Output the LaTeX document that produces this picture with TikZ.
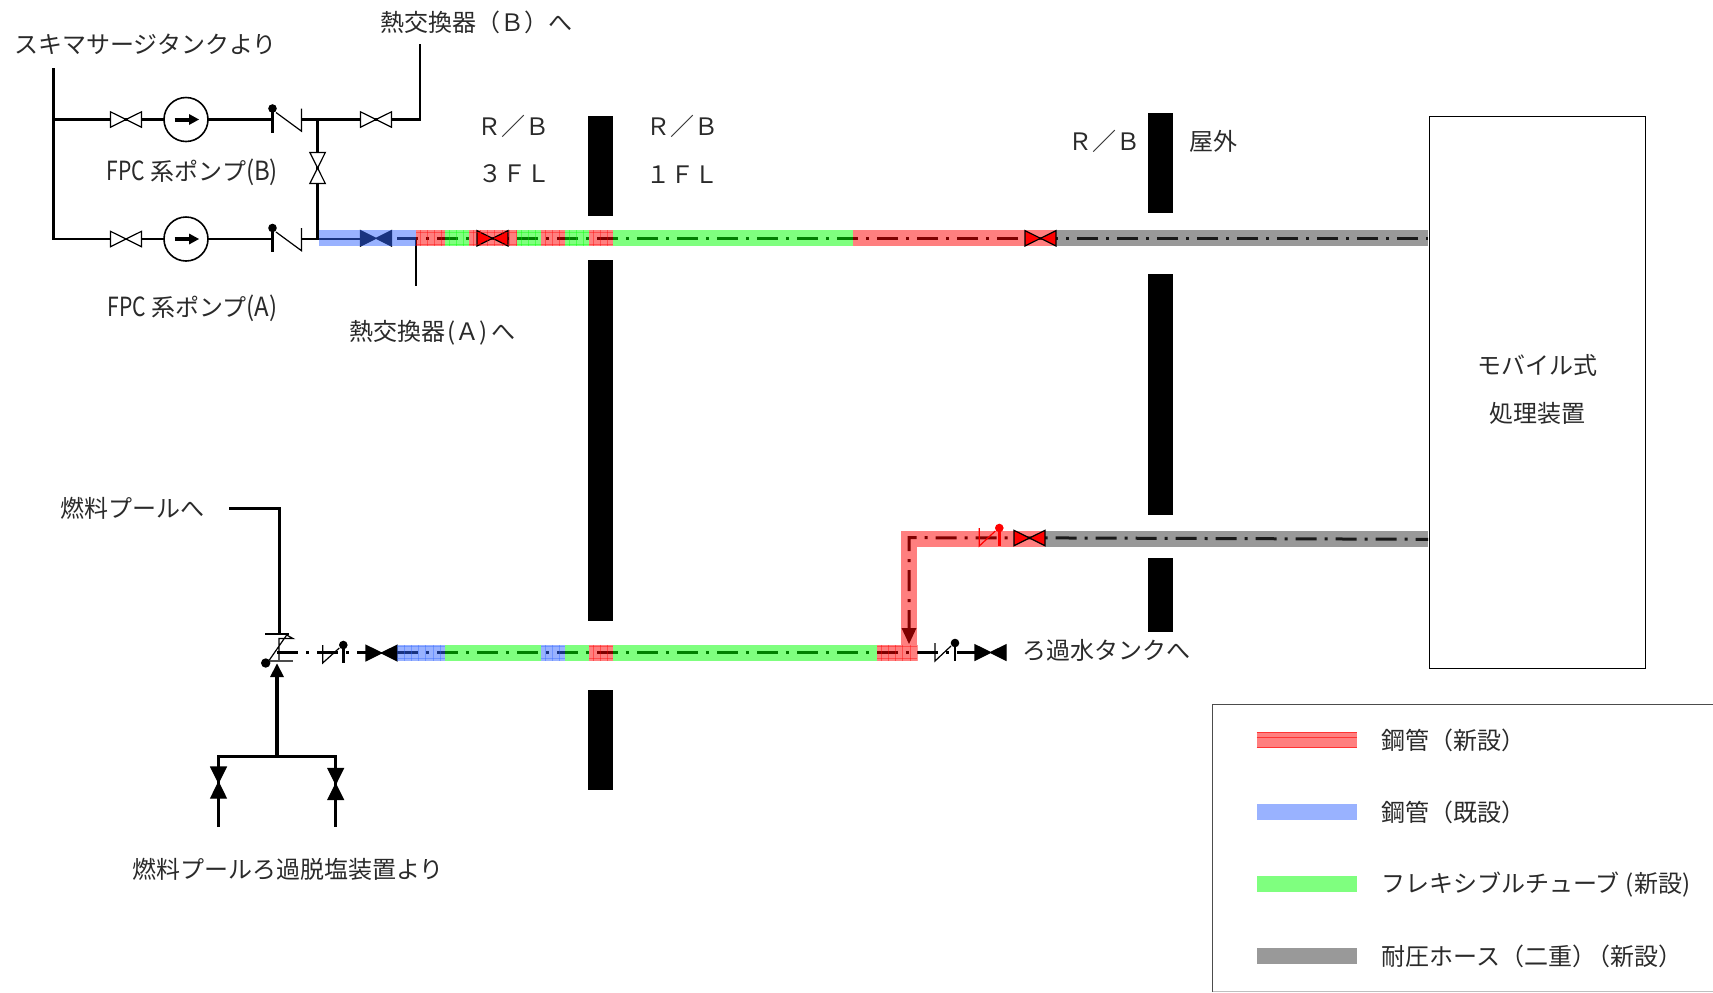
\documentclass[tikz,border=0pt]{standalone}
\usepackage{fontspec}
\setmainfont{Noto Sans CJK JP}
\usetikzlibrary{calc}
\definecolor{bandred}{HTML}{FF0000}
\definecolor{bandblue}{HTML}{3366FF}
\definecolor{bandgreen}{HTML}{00FF00}
\definecolor{bandgray}{HTML}{333333}
\definecolor{inkc}{HTML}{2A2A2A}
\tikzset{
  pipe/.style={line width=1.35pt,black,line cap=butt},
  thinpipe/.style={line width=.6pt,black},
  chain/.style={line width=1.5pt,black,dash pattern=on 10.5pt off 4pt on 1.5pt off 4pt},
  band/.style={fill=#1,opacity=.5,draw=none},
  wall/.style={fill=black,draw=none},
  lbl/.style={inner sep=0pt,font=\fontsize{12pt}{12pt}\selectfont,text=inkc,yshift=-.35pt},
  pump/.style={circle,draw=black,line width=.8pt,fill=white,minimum size=22pt,inner sep=0pt},
}
% horizontal / vertical bow-tie valves: centre x, centre y, fill, outline
\newcommand{\hvalve}[4]{\filldraw[fill=#3,draw=#4,line width=.6pt]
  (#1-15.5,#2-7.7) -- (#1+15.5,#2+7.7) -- (#1+15.5,#2-7.7) -- (#1-15.5,#2+7.7) -- cycle;}
\newcommand{\vvalve}[4]{\filldraw[fill=#3,draw=#4,line width=.6pt]
  (#1-7.7,#2-15.5) -- (#1+7.7,#2+15.5) -- (#1-7.7,#2+15.5) -- (#1+7.7,#2-15.5) -- cycle;}
% faint grid of a tinted section: first x, next x, last x, centre y, colour
\newcommand{\gridlines}[5]{\foreach \gx in {#1,#2,...,#3}{\draw[#5,line width=.3pt,opacity=.4] (\gx,#4-8) -- (\gx,#4+8);}}
\newcommand{\gridrows}[4]{\draw[#4,line width=.3pt,opacity=.4] (#1,#3-6) -- (#2,#3-6) (#1,#3+6) -- (#2,#3+6);}
% check valve with lever: x of thin bar, x of thick bar, centre y, colour
\newcommand{\checkv}[4]{
  \draw[#4,line width=.6pt] (#1,#3-9) -- (#1,#3+9) -- (#2-4,#3-6);
  \draw[#4,line width=1.35pt] (#2,#3-9) -- (#2,#3+9);
  \fill[#4] (#2,#3-9) circle[radius=2.15pt];}
% pump-discharge check valve: lever bar on the left
\newcommand{\checkp}[1]{
  \draw[line width=1.2pt,black] (272.5,#1-9) -- (272.5,#1+13);
  \fill[black] (272.5,#1-11) circle[radius=2.15pt];
  \draw[line width=.6pt,black] (276,#1-7) -- (301.5,#1+11.7) -- (301.5,#1-11);}
\begin{document}
\begin{tikzpicture}[x=.5pt,y=-.5pt]
\useasboundingbox (0,0) rectangle (1713,992);
% ---- coordinates
\coordinate (skimtop) at (53.6,68);
\coordinate (skimB) at (53.6,119.5);
\coordinate (skimA) at (53.6,239);
\coordinate (hxBtop) at (420,44);
\coordinate (hxBcor) at (420,119.5);
\coordinate (teeB) at (317.6,119.5);
\coordinate (teeA) at (317.6,239);
\coordinate (hxAtop) at (416,238);
\coordinate (hxAend) at (416,286);
% ---- plain pipework, top left
\draw[pipe,line join=miter] (skimtop) -- (skimA) -- (272.5,239);
\draw[pipe] (skimB) -- (272.5,119.5);
\draw[pipe] (301.5,119.5) -- (hxBcor) -- (hxBtop);
\draw[pipe] (301.5,239) -- (teeA) -- (teeB);
\draw[pipe] (teeA) -- (361,239);
\draw[pipe] (hxAtop) -- (hxAend);
\node[pump] (pumpB) at (186,119.5) {};
\node[pump] (pumpA) at (186,239) {};
\foreach \py in {119.5,239}{
  \draw[line width=2pt,black] (174.5,\py) -- (190,\py);
  \fill[black] (189,\py-5.5) -- (199,\py) -- (189,\py+5.5) -- cycle;
  \hvalve{126}{\py}{white}{black}
  \checkp{\py}
}
\hvalve{376}{119.5}{white}{black}
\vvalve{317.6}{168}{white}{black}
% ---- chain lines
\draw[chain] (397,238.3) -- (1428,238.3);
\draw[chain] (277,652.5) -- (975,652.5);
\draw[chain,dash phase=4.35pt] (1428,539.3) -- (1045,537.9) -- (909,537.7) -- (909,630);
\fill[black] (901.5,628) -- (916.5,628) -- (909,644) -- cycle;
% ---- valves lying under the tints
\hvalve{376}{238.3}{black}{black}
\hvalve{381.5}{653}{black}{black}
\hvalve{990.5}{652.5}{black}{black}
% ---- lower check valves
\checkv{322.7}{343.3}{654}{black}
\checkv{935}{955}{652}{black}
% ---- tints, top
\fill[band=bandblue] (319,230.3) rectangle (416,246.3);
\fill[band=bandred] (416,230.3) rectangle (445,246.3);
\fill[band=bandgreen] (445,230.3) rectangle (469,246.3);
\fill[band=bandred] (469,230.3) rectangle (517,246.3);
\fill[band=bandgreen] (517,230.3) rectangle (541,246.3);
\fill[band=bandred] (541,230.3) rectangle (565,246.3);
\fill[band=bandgreen] (565,230.3) rectangle (589,246.3);
\fill[band=bandred] (589,230.3) rectangle (613,246.3);
\fill[band=bandgreen] (613,230.3) rectangle (853,246.3);
\fill[band=bandred] (853,230.3) rectangle (1056,246.3);
\fill[band=bandgray] (1056,230.3) rectangle (1428,246.3);
% ---- tints, lower
\fill[band=bandblue] (397,644.5) rectangle (445,660.5);
\fill[band=bandgreen] (445,644.5) rectangle (541,660.5);
\fill[band=bandblue] (541,644.5) rectangle (565,660.5);
\fill[band=bandgreen] (565,644.5) rectangle (589,660.5);
\fill[band=bandred] (589,644.5) rectangle (613,660.5);
\fill[band=bandgreen] (613,644.5) rectangle (877,660.5);
\fill[band=bandred] (877,644.5) rectangle (917,660.5);
\fill[band=bandred] (901,547) rectangle (917,644.5);
\fill[band=bandred] (901,531) rectangle (1045,547);
\fill[band=bandgray] (1045,531) -- (1428,531) -- (1428,547) -- (1045,547) -- cycle;
% ---- valves on top of the tints
\hvalve{492.5}{238.3}{red}{black}
\hvalve{1040.5}{238.3}{red}{black}
\hvalve{1029.5}{538}{red}{black}
\checkv{979.3}{999.3}{537}{red}
% ---- grid of short sections
\gridlines{420}{427.2}{445}{238.3}{bandred}\gridrows{416}{445}{238.3}{bandred}
\gridlines{449}{456.2}{469}{238.3}{bandgreen}\gridrows{445}{469}{238.3}{bandgreen}
\gridlines{473}{480.2}{517}{238.3}{bandred}\gridrows{469}{517}{238.3}{bandred}
\gridlines{521}{528.2}{541}{238.3}{bandgreen}\gridrows{517}{541}{238.3}{bandgreen}
\gridlines{545}{552.2}{565}{238.3}{bandred}\gridrows{541}{565}{238.3}{bandred}
\gridlines{569}{576.2}{589}{238.3}{bandgreen}\gridrows{565}{589}{238.3}{bandgreen}
\gridlines{593}{600.2}{613}{238.3}{bandred}\gridrows{589}{613}{238.3}{bandred}
\gridlines{404}{411.2}{445}{652.5}{bandblue}\gridrows{397}{445}{652.5}{bandblue}
\gridlines{545}{552.2}{565}{652.5}{bandblue}\gridrows{541}{565}{652.5}{bandblue}
\gridlines{593}{600.2}{613}{652.5}{bandred}\gridrows{589}{613}{652.5}{bandred}
\gridlines{881}{888.2}{917}{652.5}{bandred}\gridrows{877}{917}{652.5}{bandred}
% ---- walls
\fill[wall] (588,116) rectangle (613,215.5);
\fill[wall] (588,260) rectangle (613,620.5);
\fill[wall] (588,689.5) rectangle (613,789.5);
\fill[wall] (1148,113) rectangle (1173,213);
\fill[wall] (1148,274) rectangle (1173,515);
\fill[wall] (1148,558) rectangle (1173,631.5);
% ---- lower-left pipework
\coordinate (poolcor) at (279.3,508.5);
\coordinate (poolstart) at (229,508.5);
\coordinate (chk) at (279.3,634);
\coordinate (arrowtip) at (277,663.5);
\coordinate (hdr) at (277,756.5);
\coordinate (hdrL) at (218.5,756.5);
\coordinate (hdrR) at (335.7,756.5);
\coordinate (inL) at (218.5,827);
\coordinate (inR) at (335.7,827);
\draw[pipe] (poolstart) -- (poolcor) -- (chk);
\draw[line width=.6pt,black] (265,634) -- (289,634);
\draw[line width=.6pt,black] (268,662) -- (286.7,635) -- (293,638.5) -- (279,638.5) -- (279,660);
\draw[line width=1pt,black!70] (268,661) -- (293,661);
\fill[black] (265.7,663) circle[radius=2.35pt];
\draw[line width=1.9pt,black] (hdr) -- (277,675);
\fill[black] (arrowtip) -- (284,677) -- (270,677) -- cycle;
\draw[pipe,line join=miter] (inL) -- (hdrL) -- (hdrR) -- (inR);
\vvalve{218.5}{782.5}{black}{black}
\vvalve{335.7}{784}{black}{black}
% ---- equipment box and legend
\node[draw=black,line width=.55pt,minimum width=108pt,minimum height=276pt,inner sep=0pt,anchor=north west] (mobile) at (1429,116) {};
\draw[line width=.6pt,black!70] (1713,704.5) -- (1212.7,704.5) -- (1212.7,992);
\draw[line width=.4pt,black!25] (1212.7,991.7) -- (1713,991.7);
\fill[band=bandred] (1256.7,732) rectangle (1357,748);
\draw[red,line width=.3pt,opacity=.6] (1256.7,737.5) -- (1357,737.5) (1256.7,747.6) -- (1357,747.6) (1256.7,732.4) -- (1357,732.4);
\fill[band=bandblue] (1256.7,804) rectangle (1357,820);
\fill[band=bandgreen] (1256.7,876) rectangle (1357,892);
\fill[band=bandgray] (1256.7,948) rectangle (1357,964);
% ---- labels
\node[lbl,anchor=west] (t1) at (14,44) {スキマサージタンクより};
\node[lbl,anchor=west] (t2) at (380,21.7) {熱交換器（Ｂ）へ};
\node[lbl,anchor=center] (t3) at (192.5,172) {\scalebox{.88}[1.1]{FPC} 系ポンプ\scalebox{1}[1.1]{(B)}};
\node[lbl,anchor=center] (t4) at (192.5,308) {\scalebox{.88}[1.1]{FPC} 系ポンプ\scalebox{1}[1.1]{(A)}};
\node[lbl,anchor=west] (t5) at (349,331.7) {熱交換器\hspace{1pt}(Ａ)\hspace{2pt}へ};
\node[lbl] (t6) at (513,126) {Ｒ／Ｂ};
\node[lbl] (t7) at (514,173) {３ＦＬ};
\node[lbl] (t8) at (682,126) {Ｒ／Ｂ};
\node[lbl] (t9) at (682,173.7) {１ＦＬ};
\node[lbl] (t10) at (1104,141) {Ｒ／Ｂ};
\node[lbl] (t11) at (1213,141) {屋外};
\node[lbl] (t12) at (1537,365) {モバイル式};
\node[lbl] (t13) at (1537,413) {処理装置};
\node[lbl,anchor=west] (t14) at (60,508) {燃料プールへ};
\node[lbl,anchor=west] (t15) at (132,868.5) {燃料プールろ過脱塩装置より};
\node[lbl,anchor=west] (t16) at (1022,650) {ろ過水タンクへ};
\node[lbl,anchor=west] (l1) at (1381,740) {鋼管（新設）};
\node[lbl,anchor=west] (l2) at (1381,812) {鋼管（既設）};
\node[lbl,anchor=west] (l3) at (1381,884) {フレキシブルチューブ\hspace{3pt}(新設)};
\node[lbl,anchor=west] (l4) at (1381,956) {耐圧ホース（二重）\hspace{-5pt}（新設）};
\end{tikzpicture}
\end{document}
